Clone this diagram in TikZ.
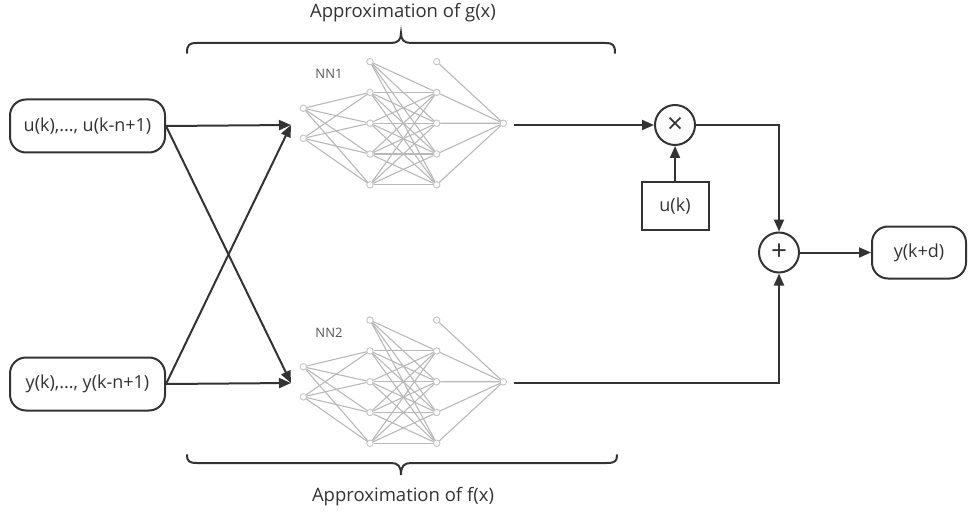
\documentclass[tikz,border=0pt]{standalone}
\usepackage{fontspec}
\setmainfont{Open Sans}
\usetikzlibrary{arrows.meta}

\definecolor{ink}{HTML}{333333}
\definecolor{netline}{HTML}{B8B8B8}
\definecolor{netnode}{HTML}{C4C4C4}
\definecolor{netlabel}{HTML}{555555}

\tikzset{
  nnc/.style={circle, draw=netnode, fill=white, line width=0.9pt, minimum size=6.5pt, inner sep=0pt},
  nnedge/.style={draw=netline, line width=1.1pt},
  arr/.style={draw=ink, line width=2pt, -{Triangle[length=12pt,width=10pt]}},
  boxr/.style={draw=ink, line width=2pt, rounded corners=16pt, fill=white, text=ink, font=\fontsize{18}{21}\selectfont, inner sep=0pt},
  boxs/.style={draw=ink, line width=2pt, fill=white, text=ink, font=\fontsize{18}{21}\selectfont, inner sep=0pt},
  opc/.style={circle, draw=ink, line width=2pt, fill=white, text=ink, minimum size=40pt, inner sep=0pt, font=\fontsize{28}{30}\selectfont},
  brace/.style={draw=ink, line width=2pt, line cap=round},
  captext/.style={text=ink, font=\fontsize{18.5}{21}\selectfont},
  nnlab/.style={text=netlabel, font=\fontsize{13}{15}\selectfont},
}

% one small network: 2 inputs, two hidden layers of 4 (each with a bias unit), 1 output
\newcommand{\nnblock}[3]{%
  \begin{scope}[shift={(0,#2)}]
    \node[nnlab] (#1lab) at (329,74) {#3};
    \node[nnc] (#1i1) at (303.3,108.3) {};
    \node[nnc] (#1i2) at (303.3,138.3) {};
    \node[nnc] (#1b1) at (370,61.6) {};
    \node[nnc] (#1b2) at (436.7,61.6) {};
    \foreach \k in {1,...,4} {
      \node[nnc] (#1h\k) at (370,{61.6+30.8*\k}) {};
      \node[nnc] (#1g\k) at (436.7,{61.6+30.8*\k}) {};
    }
    \node[nnc] (#1o) at (503.3,123.3) {};
    \foreach \a in {1,2} \foreach \b in {1,...,4} \draw[nnedge] (#1i\a) -- (#1h\b);
    \foreach \a in {1,...,4} {
      \draw[nnedge] (#1b1) -- (#1g\a);
      \draw[nnedge] (#1g\a) -- (#1o);
      \foreach \b in {1,...,4} \draw[nnedge] (#1h\a) -- (#1g\b);
    }
    \draw[nnedge] (#1b2) -- (#1o);
  \end{scope}
}

\begin{document}
\begin{tikzpicture}[x=1pt, y=-1pt]
  \useasboundingbox (0,0) rectangle (969,516);

  % the two networks
  \nnblock{na}{0}{NN1}
  \nnblock{nb}{258.5}{NN2}

  % inputs
  \node[boxr, minimum width=155pt, minimum height=53pt] (useq) at (87.5,126) {u(k),..., u(k-n+1)};
  \node[boxr, minimum width=155pt, minimum height=53pt] (yseq) at (87.5,384) {y(k),..., y(k-n+1)};

  \coordinate (gin) at (291,125);
  \coordinate (fin) at (291,383);

  \draw[arr] (useq.east) -- (gin);
  \draw[arr] (useq.east) -- (fin);
  \draw[arr] (yseq.east) -- (fin);
  \draw[arr] (yseq.east) -- (gin);

  % combining g(x)*u(k) + f(x)
  \node[opc] (mul) at (675,125) {×};
  \node[boxs, minimum width=67pt, minimum height=48pt] (uk) at (675,206) {u(k)};
  \node[opc] (add) at (779,252.5) {+};
  \node[boxr, minimum width=94pt, minimum height=52pt] (yout) at (919,252.5) {y(k+d)};

  \draw[arr] ([xshift=7pt]nao.east |- mul.west) -- (mul.west);
  \draw[arr] (uk.north) -- (mul.south);
  \draw[arr] (mul.east) -| (add.north);
  \draw[arr] ([xshift=7pt]nbo.east |- 0,383) -| (add.south);
  \draw[arr] (add.east) -- (yout.west);

  % braces and their captions
  \draw[brace] (187,53) .. controls (187,45) and (189,43) .. (197,43) -- (391,43)
    .. controls (398,43) and (401,40) .. (401,33) .. controls (401,40) and (404,43) .. (411,43)
    -- (605,43) .. controls (613,43) and (615,45) .. (615,53);
  \draw[brace] (187,455) .. controls (187,461) and (189,463) .. (197,463) -- (391,463)
    .. controls (398,463) and (401,466) .. (401,475) .. controls (401,466) and (404,463) .. (411,463)
    -- (607,463) .. controls (615,463) and (617,461) .. (617,455);
  \node[captext] (gcap) at (403,13) {Approximation of g(x)};
  \node[captext] (fcap) at (403,497) {Approximation of f(x)};
\end{tikzpicture}
\end{document}
